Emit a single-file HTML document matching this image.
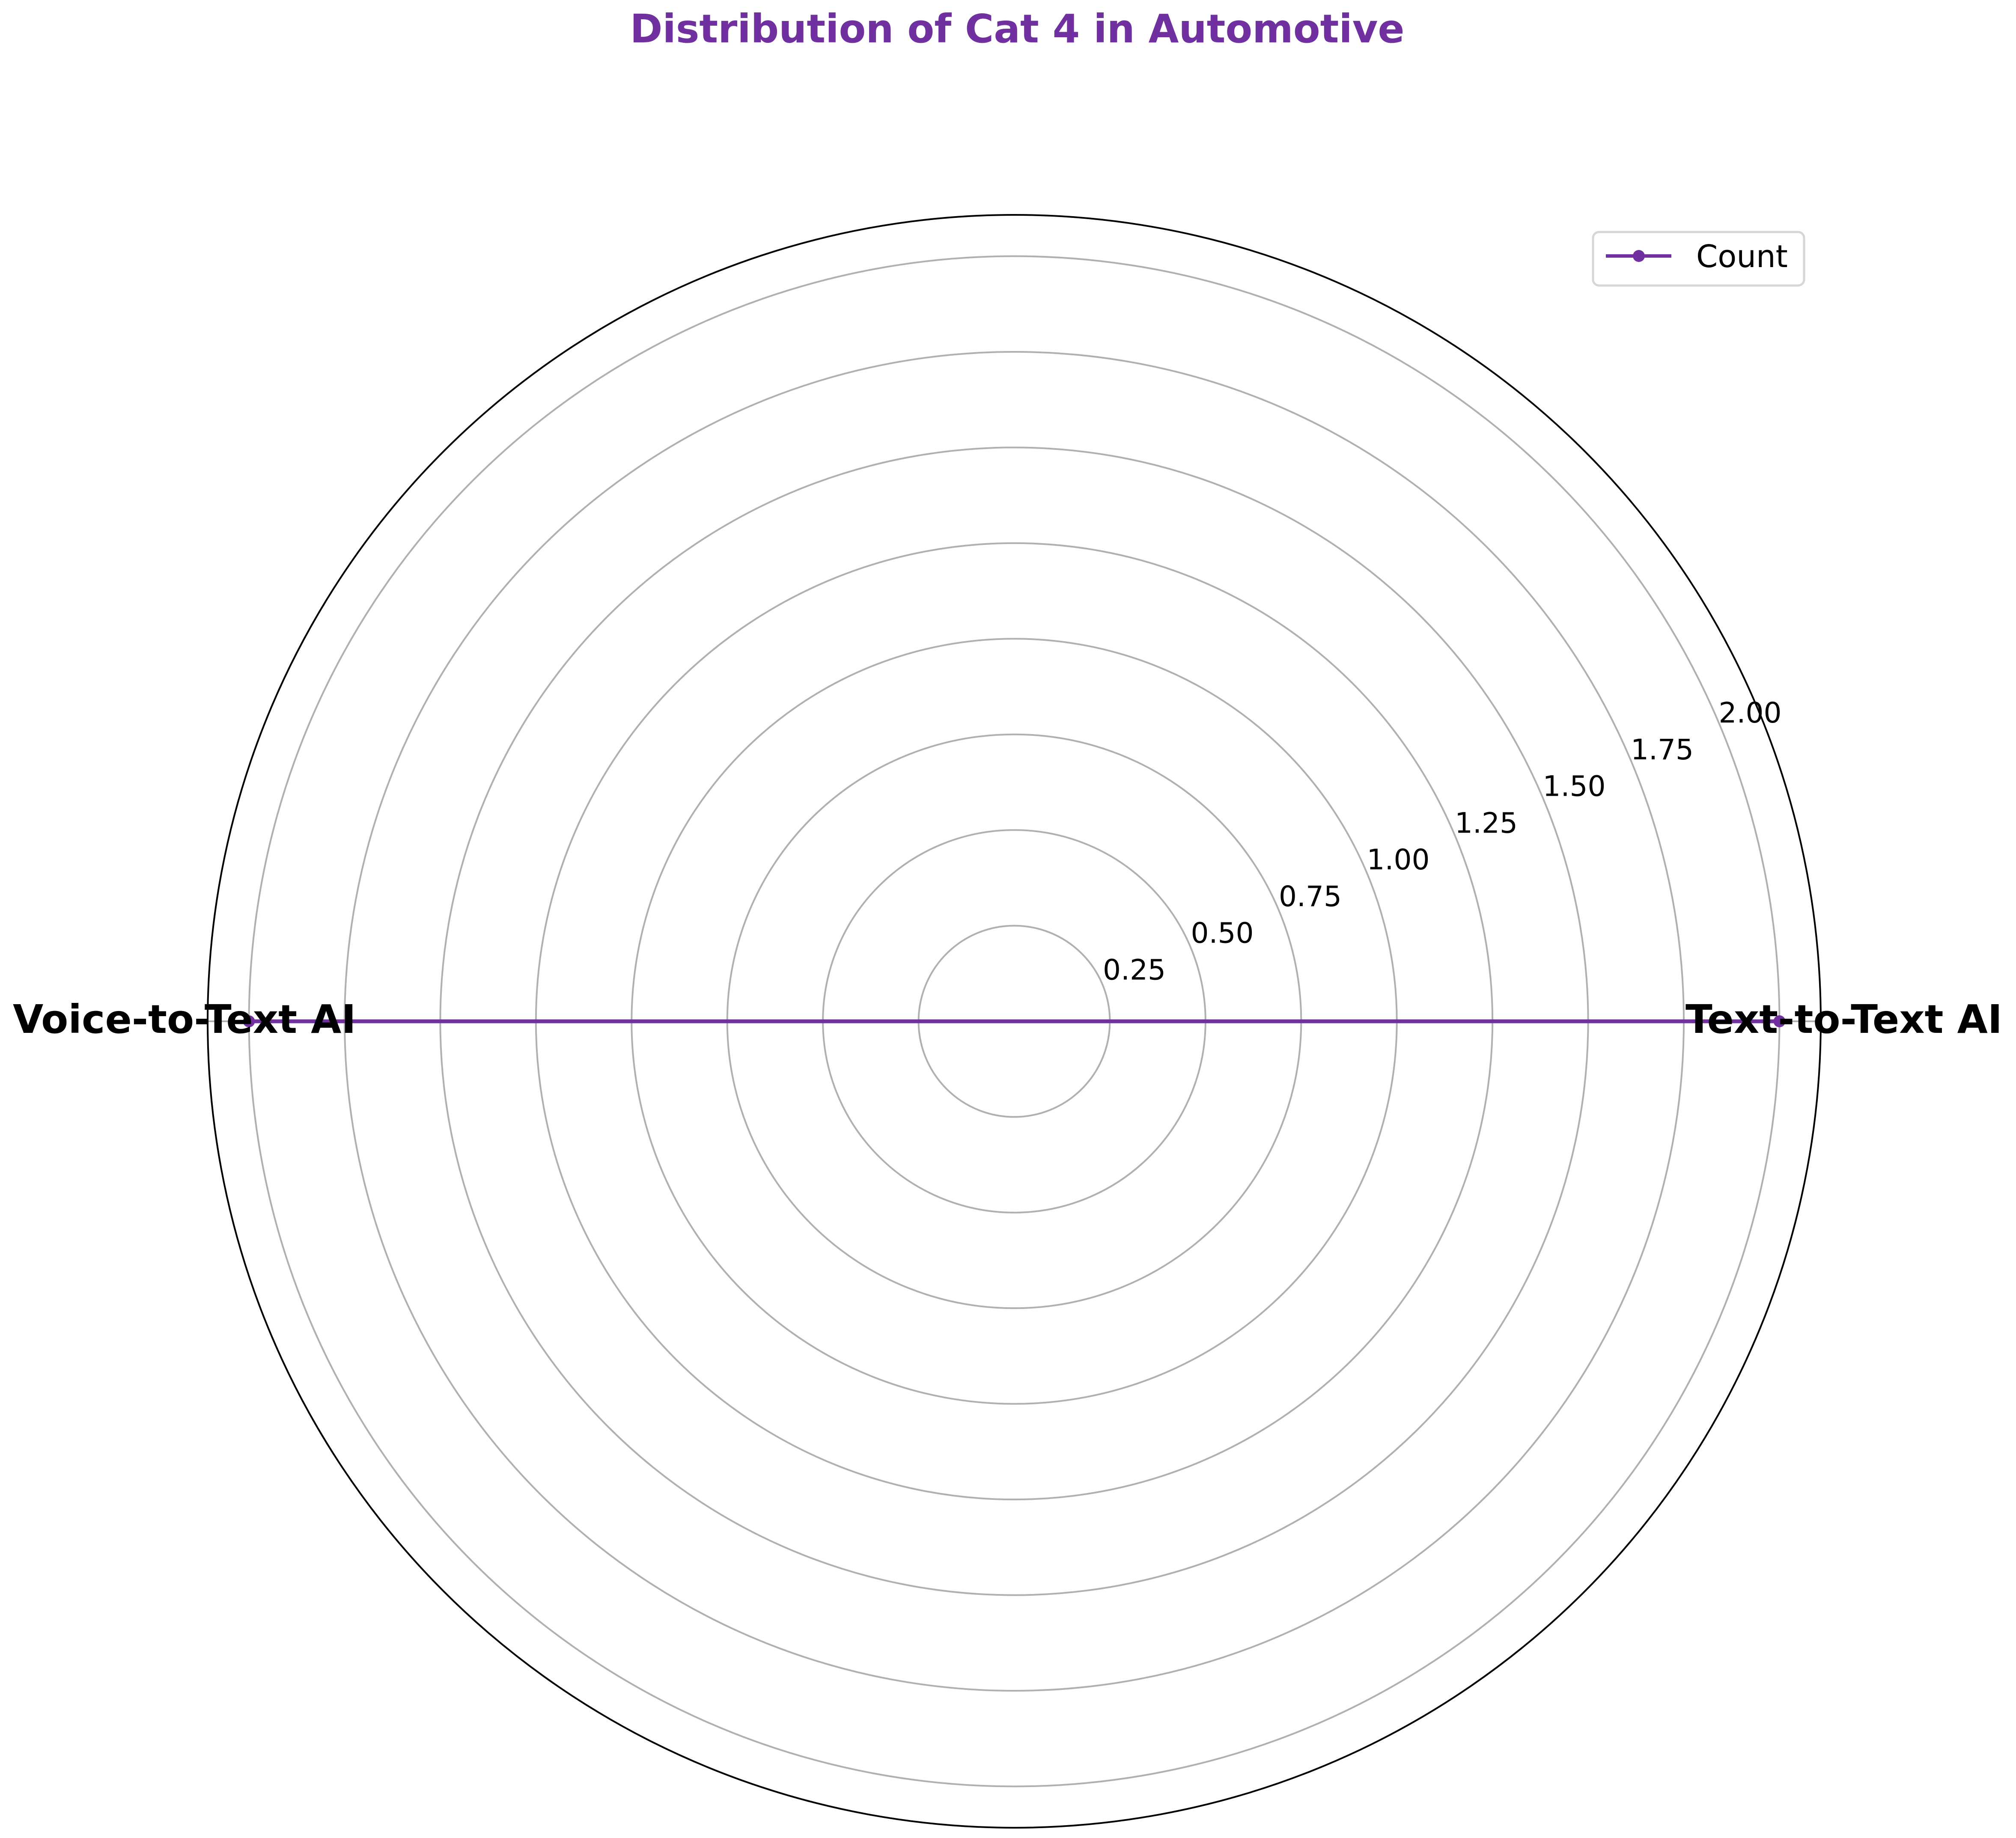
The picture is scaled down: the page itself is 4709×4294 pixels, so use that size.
<!DOCTYPE html>
<html><head><meta charset="utf-8"><style>
html,body{margin:0;padding:0;background:#fff;}
svg{display:block;font-family:"DejaVu Sans","Liberation Sans",sans-serif;}
</style></head><body>
<svg id="chart" width="4709" height="4294" viewBox="0 0 4709 4294" xmlns="http://www.w3.org/2000/svg">
<rect width="4709" height="4294" fill="#fff"/>
<text x="2376" y="99" text-anchor="middle" font-size="92" font-weight="bold" fill="#7030a0" textLength="1809" lengthAdjust="spacingAndGlyphs">Distribution of Cat 4 in Automotive</text>
<g id="grid"></g>
<g id="series"></g>
<g>
<rect x="3721" y="542" width="493" height="125" rx="14" fill="#fff" stroke="#d6d6d6" stroke-width="5"/>
<line x1="3751" y1="598" x2="3904" y2="598" stroke="#7030a0" stroke-width="8"/>
<circle cx="3828" cy="598" r="14" fill="#7030a0"/>
<text x="3962" y="624" font-size="72" fill="#000">Count</text>
</g>
</svg>
<script>
const categories = ["Text-to-Text AI", "Voice-to-Text AI"];
const counts = [2, 2];
const rTicks = [0.25, 0.5, 0.75, 1.0, 1.25, 1.5, 1.75, 2.0];
const rTickLabels = ["0.25", "0.50", "0.75", "1.00", "1.25", "1.50", "1.75", "2.00"];
const rMax = 2.108;

const NS = "http://www.w3.org/2000/svg";
const cx = 2369, cy = 2386, R = 1884;
const rs = v => v / rMax * R;
function mk(tag, attrs, parent) {
  const e = document.createElementNS(NS, tag);
  for (const k in attrs) e.setAttribute(k, attrs[k]);
  parent.appendChild(e);
  return e;
}
const grid = document.getElementById('grid');
const series = document.getElementById('series');
const n = categories.length;
const ang = i => i * 2 * Math.PI / n;

rTicks.forEach((t, i) => {
  const c = mk('circle', {cx: cx, cy: cy, r: rs(t), fill: 'none', stroke: '#b0b0b0', 'stroke-width': 4}, grid);
  
  
});
categories.forEach((c, i) => {
  const a = ang(i);
  const l = mk('line', {x1: cx, y1: cy, x2: cx + R * Math.cos(a), y2: cy - R * Math.sin(a), stroke: '#b0b0b0', 'stroke-width': 4}, grid);
  
  
});
const outer = mk('circle', {cx: cx, cy: cy, r: R, fill: 'none', stroke: '#000', 'stroke-width': 4}, grid);



rTicks.forEach((t, i) => {
  const tx = mk('text', {x: cx + 75 + 822 * t, y: cy - 12 - 343 * t, 'text-anchor': 'middle', 'font-size': 66, fill: '#000'}, grid);
  tx.textContent = rTickLabels[i];
  
  
});

const pts = counts.map((v, i) => [cx + rs(v) * Math.cos(ang(i)), cy - rs(v) * Math.sin(ang(i))]);
pts.push(pts[0]);
const pl = mk('polyline', {points: pts.map(p => p.join(',')).join(' '), fill: 'none', stroke: '#7030a0', 'stroke-width': 9}, series);


counts.forEach((v, i) => {
  const p = mk('circle', {cx: cx + rs(v) * Math.cos(ang(i)), cy: cy - rs(v) * Math.sin(ang(i)), r: 14, fill: '#7030a0'}, series);
  
  
});

categories.forEach((c, i) => {
  const a = ang(i);
  const lx = cx + Math.cos(a) * R;
  const anchor = Math.cos(a) > 0.1 ? 'end' : (Math.cos(a) < -0.1 ? 'start' : 'middle');
  const x = Math.cos(a) > 0.1 ? 4677 : (Math.cos(a) < -0.1 ? 30 : lx);
  const t = mk('text', {x: x, y: cy - Math.sin(a) * R + 27, 'text-anchor': anchor, 'font-size': 92, 'font-weight': 'bold', fill: '#000'}, grid.parentNode);
  t.textContent = c;
  
  
});
</script>
</body></html>
